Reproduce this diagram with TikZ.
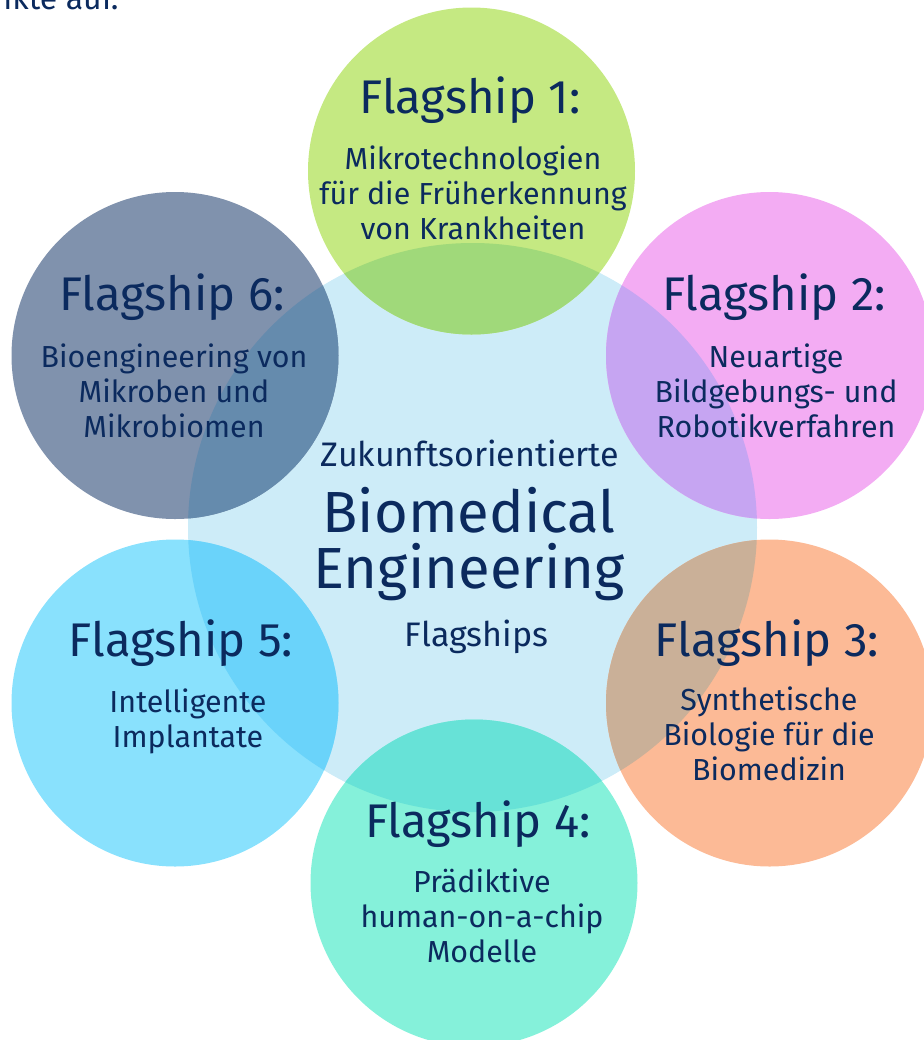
\documentclass[tikz,border=0pt]{standalone}
\usepackage{fontspec}
\setmainfont{Fira Sans}
\usetikzlibrary{positioning}

\definecolor{navy}{HTML}{0B2A5E}
\definecolor{mitte}{HTML}{CDECF8}
\definecolor{gruen}{HTML}{C5E982}
\definecolor{gruenmix}{HTML}{A0D97A}
\definecolor{rosa}{HTML}{F3ACF3}
\definecolor{rosamix}{HTML}{C6A5F2}
\definecolor{orange}{HTML}{FCBA96}
\definecolor{orangemix}{HTML}{CAB098}
\definecolor{tuerkis}{HTML}{85F1DA}
\definecolor{tuerkismix}{HTML}{67E2D7}
\definecolor{hellblau}{HTML}{89E1FD}
\definecolor{hellblaumix}{HTML}{6AD3FA}
\definecolor{schiefer}{HTML}{8092AD}
\definecolor{schiefermix}{HTML}{658BAD}

\tikzset{
  kreis/.style={circle, minimum size=163.5pt, inner sep=0pt},
  titel/.style={font=\fontsize{23.6}{28}\selectfont, text=navy, anchor=base, inner sep=0pt},
  unter/.style={font=\fontsize{15.2}{17.5}\selectfont, text=navy, align=center, anchor=base, inner sep=0pt}
}

\begin{document}
\begin{tikzpicture}[x=0.5pt, y=-0.5pt]
                \useasboundingbox (0,0) rectangle (924,1040);

                % Rest des Satzes darueber
                \node[font=\fontsize{16}{18}\selectfont, text=navy, anchor=base west, inner sep=0pt] (satz) at (3,9) {ikte auf.};

                % Grosser Kreis in der Mitte
                \node[circle, minimum size=284.5pt, inner sep=0pt, fill=mitte] (zbe) at (472.5,527.5) {};

                % Die sechs Flagship-Kreise
                \node[kreis, fill=gruen] (k1) at (471.5,171) {};
                \node[kreis, fill=rosa] (k2) at (769.5,355.5) {};
                \node[kreis, fill=orange] (k3) at (769.5,703) {};
                \node[kreis, fill=tuerkis] (k4) at (474,883) {};
                \node[kreis, fill=hellblau] (k5) at (175,703) {};
                \node[kreis, fill=schiefer] (k6) at (175,355.5) {};

                % Ueberlappungen mit dem Mittelkreis
                \begin{scope}
                \clip (zbe.center) circle (284.5);
                \fill[gruenmix] (k1.center) circle (163.5);
                \fill[rosamix] (k2.center) circle (163.5);
                \fill[orangemix] (k3.center) circle (163.5);
                \fill[tuerkismix] (k4.center) circle (163.5);
                \fill[hellblaumix] (k5.center) circle (163.5);
                \fill[schiefermix] (k6.center) circle (163.5);
                \end{scope}

                % Text in der Mitte (Anker = Grundlinie der letzten Zeile)
                \node[font=\fontsize{17}{18}\selectfont, text=navy, anchor=base, inner sep=0pt] (zk) at (470,466.7) {Zukunftsorientierte};
                \node[font=\fontsize{29}{28}\selectfont, text=navy, align=center, anchor=base, inner sep=0pt] (bme) at (469,588) {Biomedical\\Engineering};
                \node[font=\fontsize{17}{18}\selectfont, text=navy, anchor=base, inner sep=0pt] (fl) at (476.5,646.7) {Flagships};

                % Titel und Beschreibungen
                \node[titel] (t1) at (470,113) {Flagship 1:};
                \node[unter] (u1) at (473,239) {Mikrotechnologien\\für die Früherkennung\\von Krankheiten};
                \node[titel] (t2) at (774,310) {Flagship 2:};
                \node[unter] (u2) at (776,437) {Neuartige\\Bildgebungs- und\\Robotikverfahren};
                \node[titel] (t3) at (767,656) {Flagship 3:};
                \node[unter] (u3) at (769,780) {Synthetische\\Biologie für die\\Biomedizin};
                \node[titel] (t4) at (478,837) {Flagship 4:};
                \node[unter] (u4) at (482,962) {Prädiktive\\human-on-a-chip\\Modelle};
                \node[titel] (t5) at (181,656) {Flagship 5:};
                \node[unter] (u5) at (188,747) {Intelligente\\Implantate};
                \node[titel] (t6) at (172,310) {Flagship 6:};
                \node[unter] (u6) at (174,437) {Bioengineering von\\Mikroben und\\Mikrobiomen};
\end{tikzpicture}
\end{document}
